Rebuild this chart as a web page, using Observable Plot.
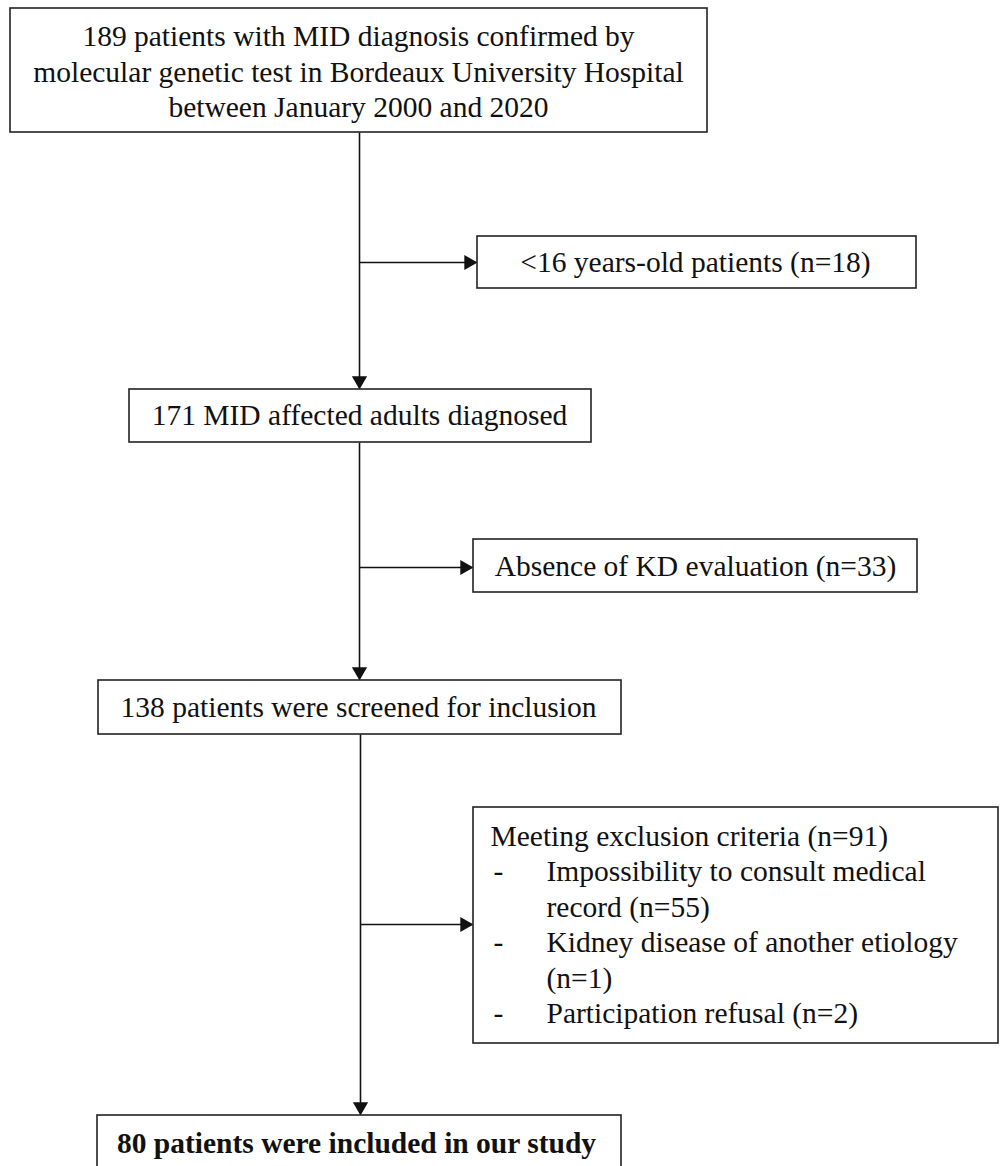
<!DOCTYPE html>
<html>
<head>
<meta charset="utf-8">
<script src="https://cdn.jsdelivr.net/npm/d3@7"></script>
<script src="https://cdn.jsdelivr.net/npm/@observablehq/plot@0.6"></script>
<style>
  html, body { margin: 0; padding: 0; background: #fff; }
  #chart svg { display: block; }
  #chart svg text { font-family: "Liberation Serif", "Times New Roman", Times, serif; }
</style>
</head>
<body>
<div id="chart"></div>
<script>
// ---- content (text and counts) ----
const mainSteps = [
  ["189 patients with MID diagnosis confirmed by",
   "molecular genetic test in Bordeaux University Hospital",
   "between January 2000 and 2020"],
  ["171 MID affected adults diagnosed"],
  ["138 patients were screened for inclusion"],
  ["80 patients were included in our study"]
];
const mainCounts = [189, 171, 138, 80];
const exclusionTitles = [
  "<16 years-old patients (n=18)",
  "Absence of KD evaluation (n=33)",
  "Meeting exclusion criteria (n=91)"
];
const exclusionCounts = [18, 33, 91];
const subReasons = [
  ["Impossibility to consult medical", "record (n=55)"],
  ["Kidney disease of another etiology", "(n=1)"],
  ["Participation refusal (n=2)"]
];
const subCounts = [55, 1, 2];

// ---- layout (pixel geometry of the diagram) ----
const W = 1000, H = 1166;
const FS = 29.5;
const LH = 35.5;
const SERIF = "'Liberation Serif', 'Times New Roman', Times, serif";
const mainBoxes = [
  {x1: 10, x2: 707, y1: 8, y2: 132, cx: 358, cy: 72},
  {x1: 129, x2: 591, y1: 389, y2: 442, cx: 359, cy: 415},
  {x1: 98, x2: 621, y1: 680, y2: 734, cx: 358, cy: 707},
  {x1: 97, x2: 621, y1: 1115, y2: 1190, cx: 356, cy: 1143}
];
const sideBoxes = [
  {x1: 477, x2: 916, y1: 236, y2: 288, cx: 695, cy: 262, arrowY: 262},
  {x1: 473, x2: 917, y1: 539, y2: 592, cx: 695, cy: 566, arrowY: 567},
  {x1: 473, x2: 998, y1: 807, y2: 1043, cx: 490, cy: 836, arrowY: 924}
];
const spineX = [359, 359, 360];

// ---- build mark data ----
const boxRects = [...mainBoxes, ...sideBoxes];

const textRows = [];
mainSteps.forEach((lines, i) => {
  const b = mainBoxes[i];
  lines.forEach((t, j) => {
    textRows.push({x: b.cx, y: b.cy + (j - (lines.length - 1) / 2) * LH, t,
                   anchor: "middle", bold: i === mainSteps.length - 1});
  });
});
exclusionTitles.forEach((t, i) => {
  const b = sideBoxes[i];
  textRows.push({x: b.cx, y: b.cy, t, anchor: i === 2 ? "start" : "middle", bold: false});
});
{
  const b = sideBoxes[2];
  let row = 1;
  subReasons.forEach((lines) => {
    textRows.push({x: 493, y: b.cy + row * LH, t: "-", anchor: "start", bold: false});
    lines.forEach((t) => {
      textRows.push({x: 546, y: b.cy + row * LH, t, anchor: "start", bold: false});
      row++;
    });
  });
}

const k = 4.4;
const links = [];
const heads = [];
for (let i = 0; i < 3; i++) {
  const a = mainBoxes[i], b = mainBoxes[i + 1], s = sideBoxes[i], x = spineX[i];
  links.push({x1: x, y1: a.y2, x2: x, y2: b.y1 - 2});
  heads.push({x, y: b.y1 - 2 * k, rot: 180});
  links.push({x1: x, y1: s.arrowY, x2: s.x1 - 2, y2: s.arrowY});
  heads.push({x: s.x1 - 2 * k, y: s.arrowY, rot: 90});
}

const chart = Plot.plot({
  width: W,
  height: H,
  margin: 0,
  x: {type: "linear", domain: [0, W], range: [0, W], axis: null},
  y: {type: "linear", domain: [0, H], range: [0, H], axis: null},
  style: {background: "#fff", fontFamily: SERIF},
  marks: [
    Plot.link(links, {x1: "x1", y1: "y1", x2: "x2", y2: "y2", stroke: "#111", strokeWidth: 1.6}),
    Plot.dot(heads, {x: "x", y: "y", rotate: "rot", symbol: "triangle", r: Math.sqrt(3 * Math.sqrt(3) * k * k / Math.PI), fill: "#111", stroke: "none"}),
    Plot.rect(boxRects, {x1: "x1", x2: "x2", y1: "y1", y2: "y2", fill: "#fff", stroke: "#222", strokeWidth: 1.6}),
    Plot.text(textRows.filter(d => !d.bold && d.anchor === "middle"), {x: "x", y: "y", text: "t", textAnchor: "middle", lineAnchor: "middle", fontSize: FS, fontFamily: SERIF, fill: "#111"}),
    Plot.text(textRows.filter(d => !d.bold && d.anchor === "start"), {x: "x", y: "y", text: "t", textAnchor: "start", lineAnchor: "middle", fontSize: FS, fontFamily: SERIF, fill: "#111"}),
    Plot.text(textRows.filter(d => d.bold), {x: "x", y: "y", text: "t", textAnchor: "middle", lineAnchor: "middle", fontSize: FS, fontWeight: "bold", fontFamily: SERIF, fill: "#111"})
  ]
});
document.getElementById("chart").appendChild(chart);
</script>
</body>
</html>
